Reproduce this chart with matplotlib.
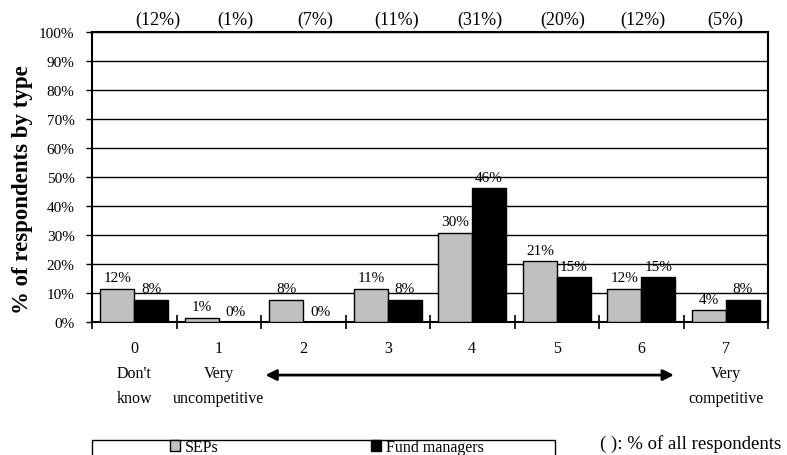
import matplotlib
matplotlib.use("Agg")
import matplotlib.pyplot as plt
from matplotlib.patches import Rectangle
import numpy as np

categories = ["0", "1", "2", "3", "4", "5", "6", "7"]
descriptions = ["Don't\nknow", "Very\nuncompetitive", "", "", "", "", "", "Very\ncompetitive"]
seps = [11.5, 1.5, 7.7, 11.5, 30.8, 21.0, 11.5, 4.0]
fund = [7.7, 0.0, 0.0, 7.7, 46.2, 15.4, 15.4, 7.7]
seps_labels = ["12%", "1%", "8%", "11%", "30%", "21%", "12%", "4%"]
fund_labels = ["8%", "0%", "0%", "8%", "46%", "15%", "15%", "8%"]
all_labels = ["(12%)", "(1%)", "(7%)", "(11%)", "(31%)", "(20%)", "(12%)", "(5%)"]

# layout: horizontal offsets of the "(x%)" labels relative to their category
top_offsets = [0.28, 0.20, 0.14, 0.11, 0.09, 0.07, 0.02, 0.0]

plt.rcParams['font.family'] = ['Liberation Serif', 'DejaVu Serif']

W, H = 787, 456
fig = plt.figure(figsize=(W/100, H/100), dpi=100)
ax = fig.add_axes([92/W, 1-323/H, (768-92)/W, (323-33)/H])

x = np.arange(len(categories))
bw = 0.4
ax.bar(x - bw/2, seps, bw, color="#c0c0c0", edgecolor="black", linewidth=1, zorder=3, label="SEPs")
ax.bar(x + bw/2, fund, bw, color="black", edgecolor="black", linewidth=1, zorder=3, label="Fund managers")

ax.set_ylim(0, 100)
ax.set_xlim(-0.5, len(categories)-0.5)
ax.set_yticks(np.arange(0, 101, 10))
ax.set_yticklabels([f"{v}%" for v in range(0, 101, 10)], fontsize=11)
ax.yaxis.grid(True, color="black", linewidth=1, zorder=0)
ax.set_axisbelow(True)
for s in ax.spines.values():
    s.set_linewidth(1.5)
ax.tick_params(axis='y', length=4.5, width=1, pad=8)

ax.set_xticks(np.arange(-0.5, len(categories)+0.5, 1))
ax.set_xticklabels([])
ax.tick_params(axis='x', direction='inout', length=10, width=1.2)

for i in range(len(categories)):
    ax.text(x[i] - bw/2, seps[i] + 1.5, seps_labels[i], ha='center', va='bottom', fontsize=11)
    ax.text(x[i] + bw/2, fund[i] + 1.5, fund_labels[i], ha='center', va='bottom', fontsize=11)
    ax.text(x[i] + top_offsets[i], 104.5, all_labels[i], ha='center', va='center', fontsize=13)
    ax.text(x[i], -9, categories[i], ha='center', va='center', fontsize=11.5)
    if descriptions[i]:
        ax.text(x[i], -22, descriptions[i], ha='center', va='center', fontsize=11.5, linespacing=1.75)

ax.set_ylabel("% of respondents by type", fontsize=16.5, fontweight='bold')
ax.yaxis.set_label_coords(-(92-33)/(768-92), (323-190)/290)

ax.annotate("", xy=(1.52, -18.3), xytext=(6.42, -18.3), xycoords='data', annotation_clip=False,
            arrowprops=dict(arrowstyle="<|-|>", color="black", lw=2, mutation_scale=16))

# legend box (extends below the figure edge)
fig.patches.append(Rectangle((92/W, -0.05), (555-92)/W, 0.05 + (456-441)/H,
                             transform=fig.transFigure, fill=False, edgecolor="black",
                             linewidth=1, figure=fig))
leg = fig.legend(loc='center left', bbox_to_anchor=(170/W, 1-448/H), ncol=2, frameon=False,
                 fontsize=11.5, handlelength=0.65, handleheight=0.65, borderpad=0,
                 borderaxespad=0, handletextpad=0.3, columnspacing=9.5)

fig.text(600/W, 1-444/H, "( ): % of all respondents", ha='left', va='center', fontsize=13.5)

fig.savefig("out.png", dpi=100)
